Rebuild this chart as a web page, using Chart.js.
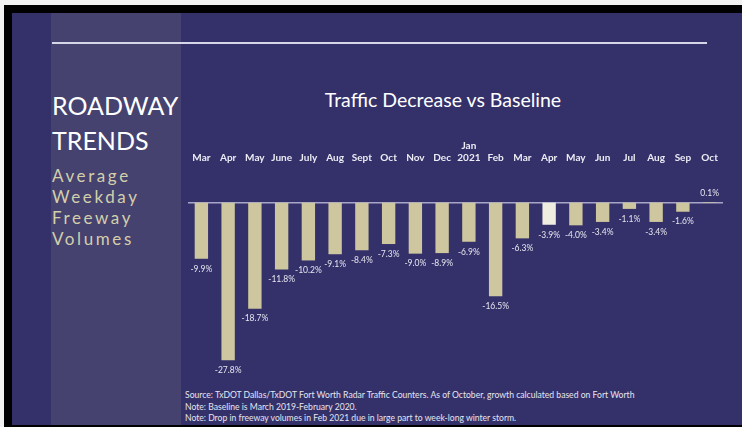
<!DOCTYPE html>
<html>
<head>
<meta charset="utf-8">
<script src="https://cdn.jsdelivr.net/npm/chart.js@4"></script>
<style>
  body { margin: 0; width: 742px; height: 427px; background: #f2f2f2; overflow: hidden; position: relative; font-family: Lato, "Open Sans", sans-serif; }
  .abs { position: absolute; }
  #frame { left: 4px; top: 5px; right: 0; bottom: 0; background: #000; }
  #slide { left: 12px; top: 13px; right: 0; height: 412px; background: #34306a; }
  #strip { left: 51px; top: 13px; width: 130px; height: 412px; background: #45426f; }
  #rule { left: 52px; top: 42px; width: 655px; height: 2px; background: #d6d6e8; }
  #head { left: 52px; top: 88px; color: #fff; font-size: 25px; line-height: 35px; }
  #sub { left: 52px; top: 165px; color: #d4cfab; font-size: 17px; line-height: 21px; letter-spacing: 2.6px; }
  #ttl { left: 181px; width: 524px; top: 88px; text-align: center; color: #fff; font-size: 19.5px; }
  #notes { left: 185px; top: 390px; color: #e6e6ef; font-size: 8.6px; line-height: 11.6px; }
  #wrap { left: 181px; top: 80px; width: 561px; height: 300px; }
</style>
</head>
<body>
<div class="abs" id="frame"></div>
<div class="abs" id="slide"></div>
<div class="abs" id="strip"></div>
<div class="abs" id="rule"></div>
<div class="abs" id="head">ROADWAY<br>TRENDS</div>
<div class="abs" id="sub">Average<br>Weekday<br>Freeway<br>Volumes</div>
<div class="abs" id="ttl">Traffic Decrease vs Baseline</div>
<div class="abs" id="wrap"><canvas id="myChart" width="561" height="300"></canvas></div>
<div class="abs" id="notes">Source: TxDOT Dallas/TxDOT Fort Worth Radar Traffic Counters. As of October, growth calculated based on Fort Worth<br>Note: Baseline is March 2019-February 2020.<br>Note: Drop in freeway volumes in Feb 2021 due in large part to week-long winter storm.</div>
<script>
// months Mar 2020 - Oct 2021
var months = ['Mar', 'Apr', 'May', 'June', 'July', 'Aug', 'Sept', 'Oct', 'Nov', 'Dec', ['Jan', '2021'], 'Feb', 'Mar', 'Apr', 'May', 'Jun', 'Jul', 'Aug', 'Sep', 'Oct'];
var change = [-9.9, -27.8, -18.7, -11.8, -10.2, -9.1, -8.4, -7.3, -9.0, -8.9, -6.9, -16.5, -6.3, -3.9, -4.0, -3.4, -1.1, -3.4, -1.6, 0.1];
var highlight = 13; // Apr 2021 drawn lighter

var barColors = change.map(function (v, i) { return i === highlight ? '#efede0' : '#cdc69e'; });

// zero line + the % labels under / over each bar
var valueLabels = {
    id: 'valueLabels',
    beforeDatasetsDraw: function (chart) {
        var ctx = chart.ctx;
        var y0 = chart.scales.y.getPixelForValue(0);
        ctx.save();
        ctx.strokeStyle = '#a7a6c8';
        ctx.lineWidth = 1.5;
        ctx.beginPath();
        ctx.moveTo(chart.chartArea.left, y0);
        ctx.lineTo(chart.chartArea.right, y0);
        ctx.stroke();
        ctx.restore();
    },
    afterDatasetsDraw: function (chart) {
        var ctx = chart.ctx;
        var meta = chart.getDatasetMeta(0);
        ctx.save();
        ctx.font = '8.5px Lato, sans-serif';
        ctx.fillStyle = '#e6e6ef';
        ctx.textAlign = 'center';
        ctx.textBaseline = 'middle';
        meta.data.forEach(function (bar, i) {
            var v = change[i];
            var y = v < 0 ? bar.y + 10 : bar.y - 9;
            ctx.fillText(v.toFixed(1) + '%', bar.x, y);
        });
        ctx.restore();
    }
};

var ctx = document.getElementById('myChart').getContext('2d');
var myChart = new Chart(ctx, {
    type: 'bar',
    data: {
        labels: months,
        datasets: [{
            label: 'Traffic change',
            data: change,
            backgroundColor: barColors,
            borderWidth: 0,
            barPercentage: 0.5,
            categoryPercentage: 1
        }]
    },
    options: {
        responsive: false,
        animation: false,
        layout: { padding: { left: 7, right: 19, top: 27, bottom: 13 } },
        plugins: { legend: { display: false }, tooltip: { enabled: false }, title: { display: false } },
        scales: {
            x: {
                position: 'top',
                grid: { display: false, drawTicks: false },
                border: { display: false },
                afterFit: function (s) { s.paddingLeft = 0; s.paddingRight = 0; },
                ticks: {
                    color: '#ececf4',
                    font: { family: 'Lato', size: 10, weight: 'bold' },
                    padding: 33,
                    maxRotation: 0,
                    autoSkip: false
                }
            },
            y: {
                display: false,
                min: -29,
                max: 1
            }
        }
    },
    plugins: [valueLabels]
});
</script>
</body>
</html>
